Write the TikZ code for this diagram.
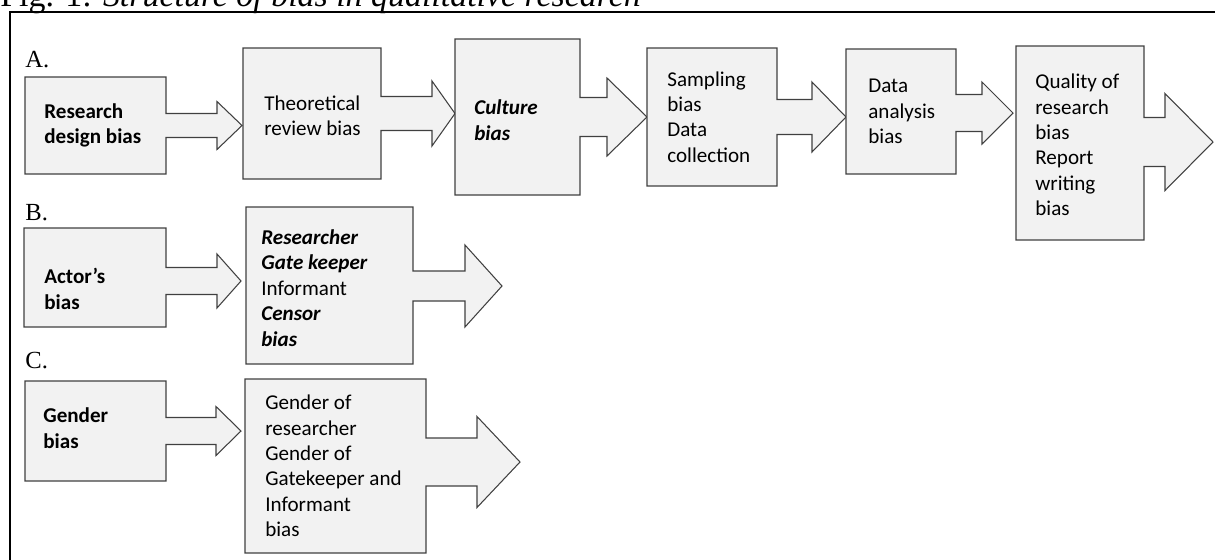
\documentclass[tikz,border=0pt]{standalone}
\usepackage{fontspec}
\setmainfont{Carlito}
\newfontfamily\timesfont{Liberation Serif}
\definecolor{boxfill}{RGB}{242,242,242}
\definecolor{boxline}{RGB}{64,64,64}

% box with a right arrow on its right side
% #1 left, #2 top, #3 right, #4 bottom, #5 shaft half width,
% #6 head half width, #7 head base x, #8 tip x, #9 arrow centre y
\newcommand{\arrowcallout}[9]{%
  \draw[calloutbox] (#1,#2) -- (#3,#2) -- (#3,#9-#5) -- (#7,#9-#5)
    -- (#7,#9-#6) -- (#8,#9) -- (#7,#9+#6) -- (#7,#9+#5)
    -- (#3,#9+#5) -- (#3,#4) -- (#1,#4) -- cycle;
}

\begin{document}
\begin{tikzpicture}[x=0.02cm, y=-0.02cm,
    calloutbox/.style={draw=boxline, fill=boxfill, line width=0.6pt},
    boxtext/.style={anchor=west, align=left, inner sep=0pt,
                    font=\fontsize{12}{14.5}\selectfont},
    grouplabel/.style={anchor=base west, inner sep=0pt,
                       font=\timesfont\fontsize{14}{16}\selectfont}
  ]
    \path[use as bounding box] (0,0) rectangle (1215,559);
    \clip (0,0) rectangle (1215,559);

    % title and frame
    \node[anchor=base west, inner sep=0pt, font=\timesfont\fontsize{19.3}{21}\selectfont]
      (title) at (0,6) {Fig. 1: \textit{Structure of bias in qualitative research}};
    \draw[line width=1.2pt] (10,12) rectangle (1240,590);

    % row A
    \node[grouplabel] (labA) at (25,67) {A.};
    \arrowcallout{25}{77}{166}{174}{12}{24}{217}{242}{125.5}
    \arrowcallout{243}{48}{381}{179}{17}{32.5}{432}{455}{113.5}
    \arrowcallout{455}{39}{580}{195}{19.5}{39}{607}{647}{117}
    \arrowcallout{647}{48}{777}{186}{17.5}{35}{812}{846}{117}
    \arrowcallout{846}{49}{956}{174}{18.5}{31}{982}{1013}{113}
    \arrowcallout{1016}{46}{1144}{240}{24.5}{48.5}{1165}{1213}{142}
    \node[boxtext] (design) at (44,125.5) {\textbf{Research}\\\textbf{design bias}};
    \node[boxtext] (review) at (264,116) {Theoretical\\review bias};
    \node[boxtext] (culture) at (474,120) {\textbf{\textit{Culture}}\\\textbf{\textit{bias}}};
    \node[boxtext] (sampling) at (667,117) {Sampling\\bias\\Data\\collection};
    \node[boxtext] (analysis) at (868,111.5) {Data\\analysis\\bias};
    \node[boxtext] (quality) at (1035,145) {Quality of\\research\\bias\\Report\\writing\\bias};

    % row B
    \node[grouplabel] (labB) at (25,220) {B.};
    \arrowcallout{24}{228}{166}{327}{13.5}{27}{217}{241}{281}
    \arrowcallout{246}{207}{413}{364}{15}{41}{465}{502}{286}
    \node[boxtext] (actor) at (44,289) {\textbf{Actor’s}\\\textbf{bias}};
    \node[boxtext] (actors) at (261,288)
      {\textbf{\textit{Researcher}}\\\textbf{\textit{Gate keeper}}\\Informant\\\textbf{\textit{Censor}}\\\textbf{\textit{bias}}};

    % row C
    \node[grouplabel] (labC) at (25,368) {C.};
    \arrowcallout{25}{381}{166}{481}{13.5}{24.5}{216}{241}{431}
    \arrowcallout{245}{379}{426}{553}{24}{45.5}{477}{520}{462}
    \node[boxtext] (gender) at (43,428) {\textbf{Gender}\\\textbf{bias}};
    \node[boxtext] (genderof) at (265,466)
      {Gender of\\researcher\\Gender of\\Gatekeeper and\\Informant\\bias};
\end{tikzpicture}
\end{document}
